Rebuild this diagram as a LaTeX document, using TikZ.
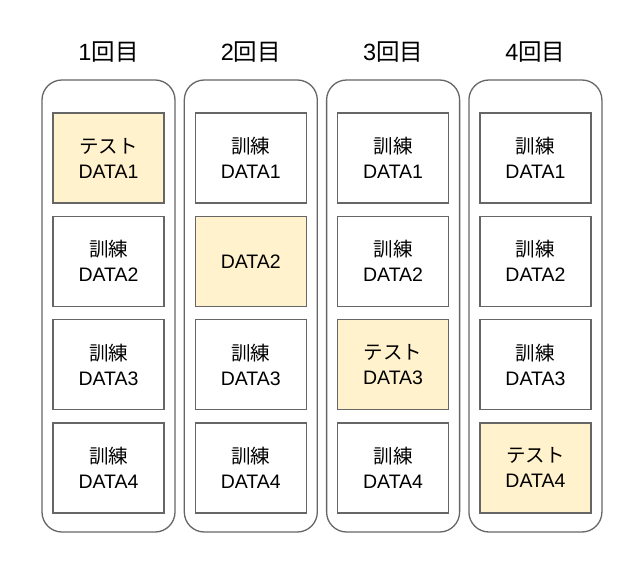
\documentclass[tikz,border=0pt]{standalone}
\usepackage{fontspec}
\setmainfont{Liberation Sans}
\newfontfamily\jp{Noto Sans CJK JP}
\definecolor{edge}{HTML}{666666}
\definecolor{hl}{HTML}{FFF2CC}
\begin{document}
\begin{tikzpicture}[x=1bp,y=-1bp,
 col/.style={draw=edge, line width=1.3bp, rounded corners=20bp, minimum width=133bp, minimum height=452bp, inner sep=0pt},
 cell/.style={draw=edge, line width=1.3bp, fill=white, minimum width=111bp, minimum height=90bp, align=center, inner sep=0pt, font=\fontsize{19.5bp}{25bp}\selectfont},
 test/.style={cell, fill=hl},
 ttl/.style={font=\fontsize{23.5bp}{26bp}\selectfont}]
\useasboundingbox (0,0) rectangle (640,570);
% columns
\node[col] (c1) at (108.5,306) {};
\node[col] (c2) at (250.8,306) {};
\node[col] (c3) at (393.1,306) {};
\node[col] (c4) at (535.4,306) {};
% titles
\node[ttl] (t1) at (108.5,52) {1{\jp 回目}};
\node[ttl] (t2) at (250.8,52) {2{\jp 回目}};
\node[ttl] (t3) at (393.1,52) {3{\jp 回目}};
\node[ttl] (t4) at (535.4,52) {4{\jp 回目}};
% column 1
\node[test] (a1) at (108.5,158) {{\jp テスト}\\DATA1};
\node[cell] (a2) at (108.5,261.3) {{\jp 訓練}\\DATA2};
\node[cell] (a3) at (108.5,364.6) {{\jp 訓練}\\DATA3};
\node[cell] (a4) at (108.5,467.9) {{\jp 訓練}\\DATA4};
% column 2
\node[cell] (b1) at (250.8,158) {{\jp 訓練}\\DATA1};
\node[test] (b2) at (250.8,261.3) {DATA2};
\node[cell] (b3) at (250.8,364.6) {{\jp 訓練}\\DATA3};
\node[cell] (b4) at (250.8,467.9) {{\jp 訓練}\\DATA4};
% column 3
\node[cell] (d1) at (393.1,158) {{\jp 訓練}\\DATA1};
\node[cell] (d2) at (393.1,261.3) {{\jp 訓練}\\DATA2};
\node[test] (d3) at (393.1,364.6) {{\jp テスト}\\DATA3};
\node[cell] (d4) at (393.1,467.9) {{\jp 訓練}\\DATA4};
% column 4
\node[cell] (e1) at (535.4,158) {{\jp 訓練}\\DATA1};
\node[cell] (e2) at (535.4,261.3) {{\jp 訓練}\\DATA2};
\node[cell] (e3) at (535.4,364.6) {{\jp 訓練}\\DATA3};
\node[test] (e4) at (535.4,467.9) {{\jp テスト}\\DATA4};
\end{tikzpicture}
\end{document}
